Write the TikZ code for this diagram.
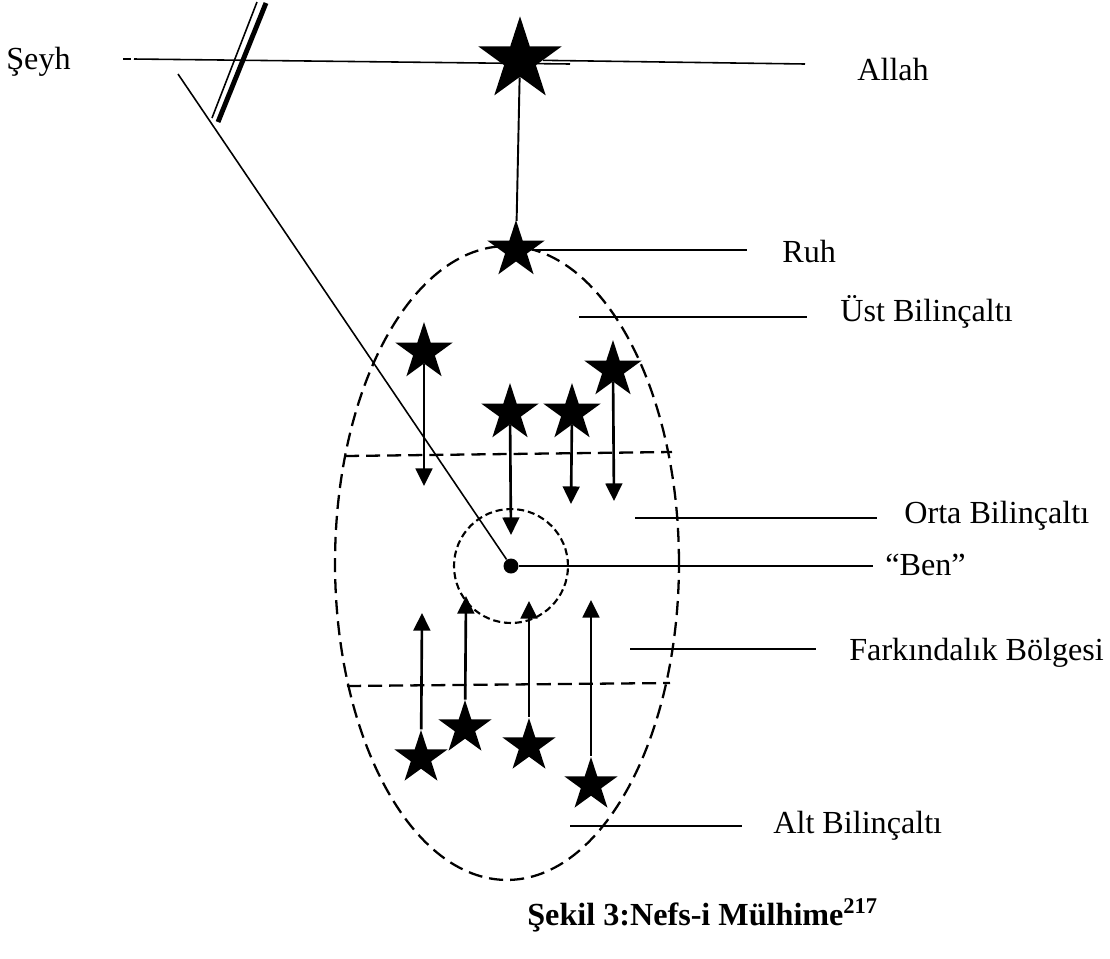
\documentclass[tikz,border=0pt]{standalone}
\usepackage{fontspec}
\setmainfont{Liberation Serif}
\usepackage{tikz}
\usetikzlibrary{arrows.meta,shapes.geometric}

\begin{document}
\begin{tikzpicture}[
  x=0.02cm, y=-0.02cm,
  font=\fontsize{18.3}{22}\selectfont,
  yildiz/.style={star, star points=5, star point ratio=2.618, fill=black, inner sep=0pt, minimum size=1.2cm},
  ince/.style={line width=0.9pt},
  ok/.style={-{Triangle[length=10pt, width=9.5pt]}, line width=1.5pt},
  bolge/.style={line width=1.3pt, dash pattern=on 8pt off 4pt},
  lbl/.style={anchor=base west, inner sep=0pt},
]
\useasboundingbox (0,0) rectangle (1110,958);

% ruh ve nefs
\node[draw, ellipse, bolge, inner sep=0pt, minimum width=6.88cm, minimum height=12.68cm] (nefs) at (507,563) {};
\node[draw, circle, line width=1.2pt, dash pattern=on 4pt off 2.2pt, inner sep=0pt, minimum size=2.28cm] (cekirdek) at (511,566) {};
\node[circle, fill=black, inner sep=0pt, minimum size=0.3cm] (ben) at (511,566) {};

\node[yildiz, minimum size=1.75cm] (allah) at (520,60) {};
\node[yildiz] (ruh) at (516,250) {};

% ust yildizlar
\node[yildiz] (u1) at (424,352) {};
\node[yildiz] (u2) at (510,413) {};
\node[yildiz] (u3) at (572,413) {};
\node[yildiz] (u4) at (613,370) {};
% alt yildizlar
\node[yildiz, minimum size=1.12cm] (a1) at (421,758) {};
\node[yildiz, minimum size=1.12cm] (a2) at (465,728) {};
\node[yildiz, minimum size=1.12cm] (a3) at (529,746) {};
\node[yildiz, minimum size=1.12cm] (a4) at (591,785) {};

% etiketler
\node[lbl] (seyh) at (6,69) {Şeyh};
\node[lbl] (allahlbl) at (857,80) {Allah};
\node[lbl] (ruhlbl) at (782,262) {Ruh};
\node[lbl] (ustlbl) at (840,321) {Üst Bilinçaltı};
\node[lbl] (ortalbl) at (904,523) {Orta Bilinçaltı};
\node[lbl] (benlbl) at (885,575) {“Ben”};
\node[lbl] (farklbl) at (849,660) {Farkındalık Bölgesi};
\node[lbl] (altlbl) at (773,833) {Alt Bilinçaltı};
\node[lbl, font=\fontsize{18.3}{22}\selectfont\bfseries] (sekil) at (527,925) {Şekil 3:Nefs-i Mülhime\textsuperscript{217}};

% bolge sinirlari
\draw[bolge] (345,456) -- (672,452);
\draw[bolge] (347,686) -- (670,683);

% seyh baglantisi
\coordinate (s0) at (123,59);
\coordinate (s1) at (134,59);
\coordinate (s2) at (570,64);
\draw[ince] (s0) -- ++(8,0);
\draw[ince] (s1) -- (s2);
\draw[ince] (178,74) -- (ben);
\draw[line width=0.9pt] (212,118) -- (257,2);
\draw[line width=2.8pt] (218,122) -- (266,3);

\draw[line width=1.1pt] (allah) -- (ruh);

% cizgiler
\coordinate (allahend) at (805,64);
\coordinate (ruhend) at (747,250);
\draw[ince] (allah) -- (allahend);
\draw[ince] (ruh) -- (ruhend);
\coordinate (ust1) at (579,317);
\coordinate (ust2) at (807,317);
\draw[ince] (ust1) -- (ust2);
\coordinate (orta1) at (635,518);
\coordinate (orta2) at (877,518);
\draw[ince] (orta1) -- (orta2);
\coordinate (benend) at (873,566);
\draw[line width=1.5pt] (ben) -- (benend);
\coordinate (fark1) at (630,649);
\coordinate (fark2) at (816,649);
\draw[ince] (fark1) -- (fark2);
\coordinate (alt1) at (570,826);
\coordinate (alt2) at (742,826);
\draw[ince] (alt1) -- (alt2);

% oklar
\draw[ok] (u1) -- (424,486);
\draw[ok] (u2) -- (511,535);
\draw[ok] (u3) -- (571,504);
\draw[ok] (u4) -- (614,501);
\draw[ok] (a1) -- (422,613);
\draw[ok] (a2) -- (466,596);
\draw[ok] (a3) -- (529,601);
\draw[ok] (a4) -- (591,600);
\end{tikzpicture}
\end{document}
